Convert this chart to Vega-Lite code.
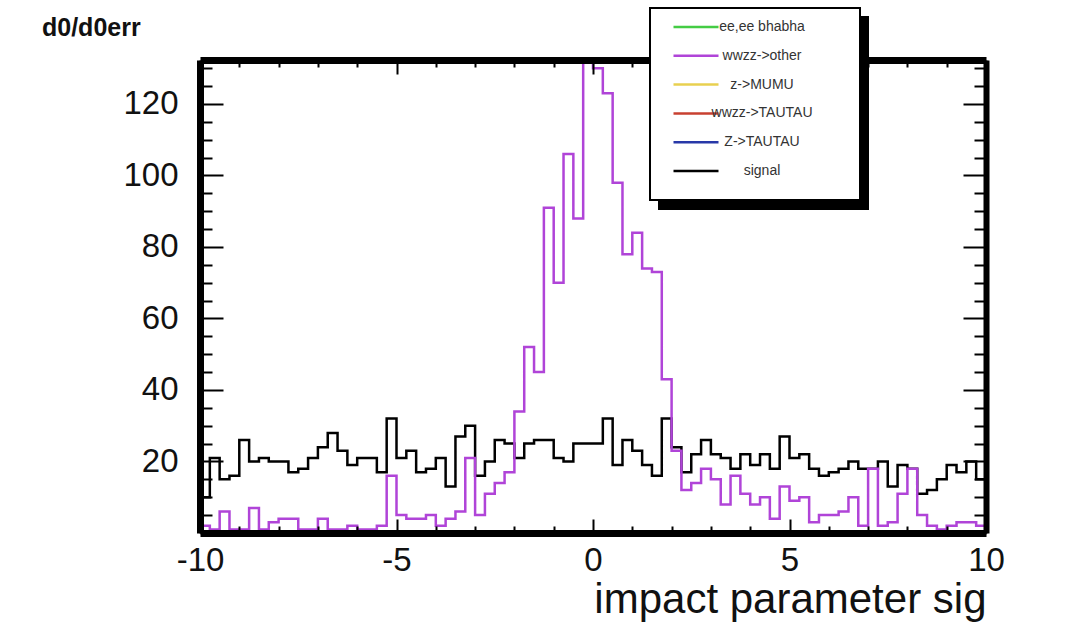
{
  "$schema": "https://vega.github.io/schema/vega-lite/v6.json",
  "width": 786,
  "height": 473,
  "autosize": {"type": "none"},
  "padding": {"left": 200, "top": 60, "right": 86, "bottom": 107},
  "background": "white",
  "title": {"text": "d0/d0err", "anchor": "start", "frame": "group", "dx": -158, "dy": 34, "offset": 0, "fontSize": 25, "font": "Liberation Sans", "fontWeight": "bold", "color": "#111"},
  "config": {
    "view": {"stroke": null},
    "axis": {"grid": false, "labelFont": "Liberation Sans", "titleFont": "Liberation Sans", "labelColor": "#111", "titleColor": "#111", "domainColor": "black", "tickColor": "black", "labelFlush": false, "labelOverlap": false},
    "legend": {"orient": "none", "padding": 12, "symbolType": "stroke", "symbolSize": 2025, "symbolStrokeWidth": 2.5, "symbolOffset": 10, "clipHeight": 14, "rowPadding": 14.8, "labelFontSize": 14, "labelFont": "Liberation Sans", "labelAlign": "center", "labelOffset": 42, "strokeWidth": 2,
               "titleOrient": "right", "titleAnchor": "end", "titleBaseline": "top", "titleFontSize": 10, "titlePadding": 36}
  },
  "data": {"values": [
    {"x": -10, "s": "signal", "n": 10}, {"x": -9.75, "s": "signal", "n": 21}, {"x": -9.5, "s": "signal", "n": 15}, {"x": -9.25, "s": "signal", "n": 16},
    {"x": -9, "s": "signal", "n": 26}, {"x": -8.75, "s": "signal", "n": 20}, {"x": -8.5, "s": "signal", "n": 21}, {"x": -8.25, "s": "signal", "n": 20},
    {"x": -8, "s": "signal", "n": 20}, {"x": -7.75, "s": "signal", "n": 17}, {"x": -7.5, "s": "signal", "n": 18}, {"x": -7.25, "s": "signal", "n": 21},
    {"x": -7, "s": "signal", "n": 24}, {"x": -6.75, "s": "signal", "n": 28}, {"x": -6.5, "s": "signal", "n": 23}, {"x": -6.25, "s": "signal", "n": 19},
    {"x": -6, "s": "signal", "n": 21}, {"x": -5.75, "s": "signal", "n": 21}, {"x": -5.5, "s": "signal", "n": 17}, {"x": -5.25, "s": "signal", "n": 32},
    {"x": -5, "s": "signal", "n": 21}, {"x": -4.75, "s": "signal", "n": 23}, {"x": -4.5, "s": "signal", "n": 17}, {"x": -4.25, "s": "signal", "n": 18},
    {"x": -4, "s": "signal", "n": 21}, {"x": -3.75, "s": "signal", "n": 13}, {"x": -3.5, "s": "signal", "n": 27}, {"x": -3.25, "s": "signal", "n": 30},
    {"x": -3, "s": "signal", "n": 16}, {"x": -2.75, "s": "signal", "n": 20}, {"x": -2.5, "s": "signal", "n": 26}, {"x": -2.25, "s": "signal", "n": 25},
    {"x": -2, "s": "signal", "n": 21}, {"x": -1.75, "s": "signal", "n": 25}, {"x": -1.5, "s": "signal", "n": 26}, {"x": -1.25, "s": "signal", "n": 26},
    {"x": -1, "s": "signal", "n": 21}, {"x": -0.75, "s": "signal", "n": 20}, {"x": -0.5, "s": "signal", "n": 25}, {"x": -0.25, "s": "signal", "n": 25},
    {"x": 0, "s": "signal", "n": 25}, {"x": 0.25, "s": "signal", "n": 32}, {"x": 0.5, "s": "signal", "n": 19}, {"x": 0.75, "s": "signal", "n": 26},
    {"x": 1, "s": "signal", "n": 23}, {"x": 1.25, "s": "signal", "n": 19}, {"x": 1.5, "s": "signal", "n": 16}, {"x": 1.75, "s": "signal", "n": 32},
    {"x": 2, "s": "signal", "n": 24}, {"x": 2.25, "s": "signal", "n": 17}, {"x": 2.5, "s": "signal", "n": 22}, {"x": 2.75, "s": "signal", "n": 26},
    {"x": 3, "s": "signal", "n": 22}, {"x": 3.25, "s": "signal", "n": 21}, {"x": 3.5, "s": "signal", "n": 18}, {"x": 3.75, "s": "signal", "n": 22},
    {"x": 4, "s": "signal", "n": 19}, {"x": 4.25, "s": "signal", "n": 22}, {"x": 4.5, "s": "signal", "n": 18}, {"x": 4.75, "s": "signal", "n": 27},
    {"x": 5, "s": "signal", "n": 21}, {"x": 5.25, "s": "signal", "n": 22}, {"x": 5.5, "s": "signal", "n": 18}, {"x": 5.75, "s": "signal", "n": 16},
    {"x": 6, "s": "signal", "n": 17}, {"x": 6.25, "s": "signal", "n": 18}, {"x": 6.5, "s": "signal", "n": 20}, {"x": 6.75, "s": "signal", "n": 18},
    {"x": 7, "s": "signal", "n": 18}, {"x": 7.25, "s": "signal", "n": 20}, {"x": 7.5, "s": "signal", "n": 13}, {"x": 7.75, "s": "signal", "n": 19},
    {"x": 8, "s": "signal", "n": 18}, {"x": 8.25, "s": "signal", "n": 11}, {"x": 8.5, "s": "signal", "n": 12}, {"x": 8.75, "s": "signal", "n": 15},
    {"x": 9, "s": "signal", "n": 19}, {"x": 9.25, "s": "signal", "n": 17}, {"x": 9.5, "s": "signal", "n": 20}, {"x": 9.75, "s": "signal", "n": 15},
    {"x": 10, "s": "signal", "n": 15},
    {"x": -10, "s": "wwzz->other", "n": 2}, {"x": -9.75, "s": "wwzz->other", "n": 1}, {"x": -9.5, "s": "wwzz->other", "n": 6}, {"x": -9.25, "s": "wwzz->other", "n": 1},
    {"x": -9, "s": "wwzz->other", "n": 1}, {"x": -8.75, "s": "wwzz->other", "n": 7}, {"x": -8.5, "s": "wwzz->other", "n": 1}, {"x": -8.25, "s": "wwzz->other", "n": 3},
    {"x": -8, "s": "wwzz->other", "n": 4}, {"x": -7.75, "s": "wwzz->other", "n": 4}, {"x": -7.5, "s": "wwzz->other", "n": 1}, {"x": -7.25, "s": "wwzz->other", "n": 1},
    {"x": -7, "s": "wwzz->other", "n": 4}, {"x": -6.75, "s": "wwzz->other", "n": 1}, {"x": -6.5, "s": "wwzz->other", "n": 1}, {"x": -6.25, "s": "wwzz->other", "n": 2},
    {"x": -6, "s": "wwzz->other", "n": 1}, {"x": -5.75, "s": "wwzz->other", "n": 1}, {"x": -5.5, "s": "wwzz->other", "n": 2}, {"x": -5.25, "s": "wwzz->other", "n": 16},
    {"x": -5, "s": "wwzz->other", "n": 5}, {"x": -4.75, "s": "wwzz->other", "n": 4}, {"x": -4.5, "s": "wwzz->other", "n": 4}, {"x": -4.25, "s": "wwzz->other", "n": 5},
    {"x": -4, "s": "wwzz->other", "n": 2}, {"x": -3.75, "s": "wwzz->other", "n": 4}, {"x": -3.5, "s": "wwzz->other", "n": 6}, {"x": -3.25, "s": "wwzz->other", "n": 21},
    {"x": -3, "s": "wwzz->other", "n": 5}, {"x": -2.75, "s": "wwzz->other", "n": 11}, {"x": -2.5, "s": "wwzz->other", "n": 14}, {"x": -2.25, "s": "wwzz->other", "n": 17},
    {"x": -2, "s": "wwzz->other", "n": 34}, {"x": -1.75, "s": "wwzz->other", "n": 52}, {"x": -1.5, "s": "wwzz->other", "n": 45}, {"x": -1.25, "s": "wwzz->other", "n": 91},
    {"x": -1, "s": "wwzz->other", "n": 70}, {"x": -0.75, "s": "wwzz->other", "n": 106}, {"x": -0.5, "s": "wwzz->other", "n": 88}, {"x": -0.25, "s": "wwzz->other", "n": 132},
    {"x": 0, "s": "wwzz->other", "n": 130}, {"x": 0.25, "s": "wwzz->other", "n": 123}, {"x": 0.5, "s": "wwzz->other", "n": 98}, {"x": 0.75, "s": "wwzz->other", "n": 78},
    {"x": 1, "s": "wwzz->other", "n": 84}, {"x": 1.25, "s": "wwzz->other", "n": 74}, {"x": 1.5, "s": "wwzz->other", "n": 73}, {"x": 1.75, "s": "wwzz->other", "n": 43},
    {"x": 2, "s": "wwzz->other", "n": 23}, {"x": 2.25, "s": "wwzz->other", "n": 12}, {"x": 2.5, "s": "wwzz->other", "n": 14}, {"x": 2.75, "s": "wwzz->other", "n": 18},
    {"x": 3, "s": "wwzz->other", "n": 15}, {"x": 3.25, "s": "wwzz->other", "n": 8}, {"x": 3.5, "s": "wwzz->other", "n": 16}, {"x": 3.75, "s": "wwzz->other", "n": 11},
    {"x": 4, "s": "wwzz->other", "n": 8}, {"x": 4.25, "s": "wwzz->other", "n": 10}, {"x": 4.5, "s": "wwzz->other", "n": 4}, {"x": 4.75, "s": "wwzz->other", "n": 13},
    {"x": 5, "s": "wwzz->other", "n": 9}, {"x": 5.25, "s": "wwzz->other", "n": 10}, {"x": 5.5, "s": "wwzz->other", "n": 3}, {"x": 5.75, "s": "wwzz->other", "n": 5},
    {"x": 6, "s": "wwzz->other", "n": 5}, {"x": 6.25, "s": "wwzz->other", "n": 6}, {"x": 6.5, "s": "wwzz->other", "n": 10}, {"x": 6.75, "s": "wwzz->other", "n": 2},
    {"x": 7, "s": "wwzz->other", "n": 18}, {"x": 7.25, "s": "wwzz->other", "n": 2}, {"x": 7.5, "s": "wwzz->other", "n": 3}, {"x": 7.75, "s": "wwzz->other", "n": 11},
    {"x": 8, "s": "wwzz->other", "n": 18}, {"x": 8.25, "s": "wwzz->other", "n": 5}, {"x": 8.5, "s": "wwzz->other", "n": 2}, {"x": 8.75, "s": "wwzz->other", "n": 1},
    {"x": 9, "s": "wwzz->other", "n": 2}, {"x": 9.25, "s": "wwzz->other", "n": 3}, {"x": 9.5, "s": "wwzz->other", "n": 3}, {"x": 9.75, "s": "wwzz->other", "n": 2},
    {"x": 10, "s": "wwzz->other", "n": 2}
  ]},
  "resolve": {"axis": {"x": "independent", "y": "independent"}},
  "layer": [
    {
      "transform": [{"filter": "datum.s === 'signal'"}],
      "mark": {"type": "line", "interpolate": "step-after", "strokeWidth": 2.5, "clip": true},
      "encoding": {
        "x": {"field": "x", "type": "quantitative", "scale": {"domain": [-10, 10], "nice": false, "zero": false},
              "axis": {"orient": "bottom", "values": [-10, -5, 0, 5, 10], "labelExpr": "'' + datum.value", "ticks": false, "domain": false, "labelFontSize": 33, "labelPadding": 11, "labelBaseline": "top",
                       "title": "impact parameter sig", "titleFontSize": 42, "titleFontWeight": "normal", "titleAnchor": "end", "titleAlign": "right", "titleBaseline": "alphabetic", "titleY": 79, "zindex": 1}},
        "y": {"field": "n", "type": "quantitative", "scale": {"domain": [0, 132.3], "nice": false},
              "axis": {"orient": "left", "values": [20, 40, 60, 80, 100, 120], "ticks": false, "domain": false, "labelFontSize": 33, "labelPadding": 22, "title": null, "zindex": 1}},
        "color": {"field": "s", "type": "nominal",
                  "scale": {"domain": ["ee,ee bhabha", "wwzz->other", "z->MUMU", "wwzz->TAUTAU", "Z->TAUTAU", "signal"],
                            "range": ["#44cc44", "#b044d8", "#e8d050", "#c84030", "#2838a8", "#000000"]},
                  "legend": {"title": "\u2003", "legendX": 450, "legendY": -52, "fillColor": "white", "strokeColor": "black", "labelColor": "#333", "titleColor": "white", "zindex": 3}}
      }
    },
    {
      "transform": [{"filter": "datum.s === 'wwzz->other'"}],
      "mark": {"type": "line", "interpolate": "step-after", "strokeWidth": 2.5, "clip": true},
      "encoding": {
        "x": {"field": "x", "type": "quantitative",
              "axis": {"orient": "bottom", "values": [-10, -5, 0, 5, 10], "labels": false, "tickSize": -14, "tickWidth": 2, "domain": true, "domainWidth": 7, "title": null, "zindex": 1}},
        "y": {"field": "n", "type": "quantitative",
              "axis": {"orient": "left", "values": [0, 20, 40, 60, 80, 100, 120], "labels": false, "tickSize": -23, "tickWidth": 2, "domain": true, "domainWidth": 7, "title": null, "zindex": 1}},
        "color": {"field": "s", "type": "nominal"}
      }
    },
    {
      "mark": {"type": "point", "opacity": 0},
      "encoding": {
        "x": {"field": "x", "type": "quantitative",
              "axis": {"orient": "bottom", "values": [-9, -8, -7, -6, -4, -3, -2, -1, 1, 2, 3, 4, 6, 7, 8, 9], "labels": false, "tickSize": -7, "tickWidth": 2, "domain": false, "title": null, "zindex": 1}},
        "y": {"field": "n", "type": "quantitative",
              "axis": {"orient": "left", "values": [5, 10, 15, 25, 30, 35, 45, 50, 55, 65, 70, 75, 85, 90, 95, 105, 110, 115, 125, 130], "labels": false, "tickSize": -12, "tickWidth": 2, "domain": false, "title": null, "zindex": 1}},
        "strokeDash": {"field": "s", "type": "nominal",
                       "scale": {"domain": ["signal", "ee,ee bhabha", "wwzz->other", "z->MUMU", "wwzz->TAUTAU", "Z->TAUTAU"]},
                       "legend": {"title": "\u2003", "labelExpr": "''", "labelOffset": 127, "titlePadding": 0, "legendX": 459, "legendY": -43, "fillColor": "black", "strokeColor": "black", "labelColor": "black", "titleColor": "black", "symbolStrokeColor": "black", "zindex": 2}}
      }
    },
    {
      "mark": {"type": "point", "opacity": 0},
      "encoding": {
        "x": {"field": "x", "type": "quantitative",
              "axis": {"orient": "top", "values": [-10, -5, 0, 5, 10], "labels": false, "tickSize": -14, "tickWidth": 2, "domain": true, "domainWidth": 7, "title": null, "zindex": 1}},
        "y": {"field": "n", "type": "quantitative",
              "axis": {"orient": "right", "values": [0, 20, 40, 60, 80, 100, 120], "labels": false, "tickSize": -23, "tickWidth": 2, "domain": true, "domainWidth": 6, "title": null, "zindex": 1}}
      }
    },
    {
      "mark": {"type": "point", "opacity": 0},
      "encoding": {
        "x": {"field": "x", "type": "quantitative",
              "axis": {"orient": "top", "values": [-9, -8, -7, -6, -4, -3, -2, -1, 1, 2, 3, 4, 6, 7, 8, 9], "labels": false, "tickSize": -7, "tickWidth": 2, "domain": false, "title": null, "zindex": 1}},
        "y": {"field": "n", "type": "quantitative",
              "axis": {"orient": "right", "values": [5, 10, 15, 25, 30, 35, 45, 50, 55, 65, 70, 75, 85, 90, 95, 105, 110, 115, 125, 130], "labels": false, "tickSize": -12, "tickWidth": 2, "domain": false, "title": null, "zindex": 1}}
      }
    }
  ]
}
